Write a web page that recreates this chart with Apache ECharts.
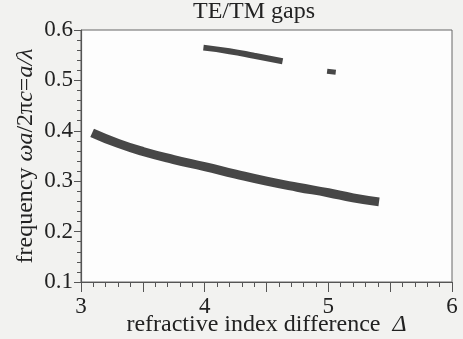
<!DOCTYPE html>
<html><head><meta charset="utf-8">
<script src="https://cdn.jsdelivr.net/npm/echarts@6/dist/echarts.min.js"></script>
<style>html,body{margin:0;padding:0;background:#f2f2f0}#c{width:463px;height:339px}</style>
</head><body><div id="c"></div>
<script>
var titleText = 'TE/TM gaps';
var xTicks = [3, 4, 5, 6];
var yTicks = [0.1, 0.2, 0.3, 0.4, 0.5, 0.6];
var lowerX = [3.09, 3.3, 3.5, 3.75, 4.0, 4.25, 4.5, 4.75, 5.0, 5.2, 5.41];
var lowerY = [0.396, 0.375, 0.359, 0.343, 0.329, 0.314, 0.300, 0.288, 0.277, 0.267, 0.259];
var upperX = [3.99, 4.2, 4.4, 4.63];
var upperY = [0.565, 0.558, 0.549, 0.538];
var smallX = [4.99, 5.06];
var smallY = [0.518, 0.516];

function pairs(xs, ys){ return xs.map(function(x,i){ return [x, ys[i]]; }); }
var font = '"Liberation Serif","Times New Roman",serif';
var col = '#474747';
var tc = '#222';
var chart = echarts.init(document.getElementById('c'));
chart.setOption({
  backgroundColor: '#f2f2f0',
  animation: false,
  graphic: [{ type: 'text', left: 255 - 62, top: 0,
    style: { text: titleText, font: 'normal 24px ' + font, fill: tc } }],
  grid: { left: 81, right: 11, top: 30, bottom: 57, outerBoundsMode: 'none', containLabel: false,
    show: true, backgroundColor: '#fdfdfd', borderColor: '#666', borderWidth: 1 },
  xAxis: {
    type: 'value', min: xTicks[0], max: xTicks[xTicks.length-1], interval: 0.5,
    axisLine: { lineStyle: { color: '#555', width: 1.2 } },
    axisTick: { show: true, length: 10, lineStyle: { color: '#555' } },
    minorTick: { show: true, splitNumber: 5, length: 5, lineStyle: { color: '#555' } },
    splitLine: { show: false },
    axisLabel: { fontFamily: font, fontSize: 23, color: tc, margin: 13,
      formatter: function(v){ return xTicks.indexOf(v) >= 0 ? String(v) : ''; } },
    name: 'refractive index difference  {i|Δ}', nameLocation: 'middle', nameGap: 31, nameMoveOverlap: false,
    nameTextStyle: { fontFamily: font, fontSize: 24, color: tc,
      rich: { i: { fontFamily: font, fontSize: 24, fontStyle: 'italic', color: tc } } }
  },
  yAxis: {
    type: 'value', min: yTicks[0], max: yTicks[yTicks.length-1], interval: 0.1,
    axisLine: { show: true, lineStyle: { color: '#555', width: 1.2 } },
    axisTick: { show: true, length: 7, lineStyle: { color: '#555' } },
    minorTick: { show: true, splitNumber: 5, length: 4, lineStyle: { color: '#555' } },
    splitLine: { show: false },
    axisLabel: { fontFamily: font, fontSize: 23, color: tc, margin: 8,
      formatter: function(v){ return v.toFixed(1); } },
    name: '{n|frequency }{i|ωa}{n|/2π}{i|c}{n|=}{i|a/λ}', nameLocation: 'middle', nameGap: 43, nameRotate: 90, nameMoveOverlap: false,
    nameTextStyle: { fontFamily: font, fontSize: 24, color: tc,
      rich: { n: { fontFamily: font, fontSize: 24, color: tc },
              i: { fontFamily: font, fontSize: 24, fontStyle: 'italic', color: tc } } }
  },
  series: [
    { type: 'line', data: pairs(lowerX, lowerY), smooth: true, symbol: 'none',
      lineStyle: { color: col, width: 9, cap: 'butt' } },
    { type: 'line', data: pairs(upperX, upperY), smooth: true, symbol: 'none',
      lineStyle: { color: col, width: 6, cap: 'butt' } },
    { type: 'line', data: pairs(smallX, smallY), symbol: 'none',
      lineStyle: { color: col, width: 5, cap: 'butt' } }
  ]
});
</script></body></html>
